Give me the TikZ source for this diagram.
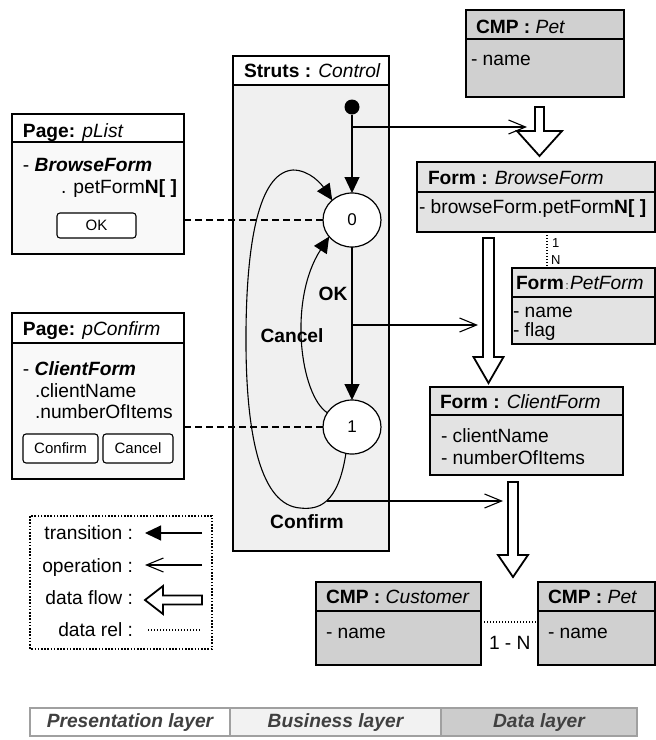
\documentclass[tikz,border=0pt]{standalone}
\usepackage{fontspec}
\setmainfont{Liberation Sans}
\usetikzlibrary{arrows.meta,shapes.geometric,calc}
\definecolor{formgray}{HTML}{E3E3E3}
\definecolor{cmpgray}{HTML}{D0D0D0}
\definecolor{strutsgray}{HTML}{F0F0F0}
\definecolor{pagegray}{HTML}{F9F9F9}
\definecolor{bizgray}{HTML}{F2F2F2}
\definecolor{datagray}{HTML}{CCCCCC}
\definecolor{layerline}{HTML}{A0A0A0}
\definecolor{layertext}{HTML}{404040}
\newcommand\boxpart[6]{\node[rbox, fill=#6, minimum width={(#4)-(#2)}, minimum height={(#5)-(#3)}] (#1) at (#2,#3) {};}
\newcommand\flowdown[6]{% cx, halfshaft, top, base, halfhead, tip
  \draw[dflow] ({#1-#2},#3) -- ({#1-#2},#4) -- ({#1-#5},#4) -- (#1,#6) -- ({#1+#5},#4) -- ({#1+#2},#4) -- ({#1+#2},#3) -- cycle;}
\begin{document}
\begin{tikzpicture}[x=1pt,y=-1pt,
  every node/.style={font=\fontsize{19.2}{22}\selectfont, inner sep=0pt, outer sep=0pt},
  txt/.style={anchor=base west},
  rbox/.style={draw, line width=1.2pt, rectangle, inner sep=0pt, anchor=north west},
  btn/.style={draw, line width=1.1pt, rounded corners=3pt, fill=white, anchor=north west, font=\fontsize{15}{18}\selectfont},
  state/.style={draw, ellipse, fill=white, line width=1.2pt, minimum width=58pt, minimum height=54pt, font=\fontsize{17}{20}\selectfont},
  trans/.style={-{Triangle[length=16pt,width=15pt]}, line width=1.1pt},
  oper/.style={-{Straight Barb[length=17pt,width=14pt,line width=1.1pt]}, line width=1.1pt},
  dflow/.style={draw, fill=white, line width=1.8pt, line join=miter},
  dashline/.style={line width=1.1pt, dash pattern=on 7pt off 4pt},
  rel/.style={line width=1.3pt, dash pattern=on 1.4pt off 1.6pt},
  lbl/.style={anchor=base, font=\fontsize{19.2}{22}\selectfont\bfseries},
  layer/.style={draw=layerline, line width=1.2pt, rectangle, inner sep=0pt, anchor=north west, minimum height=28pt},
  layertxt/.style={anchor=base, text=layertext, font=\fontsize{19.2}{22}\selectfont\bfseries\itshape}
]
\useasboundingbox (0,0) rectangle (656,740);

% ---------- Struts : Control ----------
\boxpart{strh}{233}{56}{389}{85}{white}
\boxpart{strb}{233}{85}{389}{551}{strutsgray}
\node[txt] (strt) at (244,77) {\textbf{Struts :} \textit{Control}};

% ---------- Page: pList ----------
\boxpart{plh}{12}{114}{184}{142}{white}
\boxpart{plb}{12}{142}{184}{254}{pagegray}
\node[txt] (plt) at (23,137) {\textbf{Page:} \textit{pList}};
\node[txt] (pl1) at (23,171) {- \textbf{\textit{BrowseForm}}};
\node[txt] (pl2) at (61,193) {. petForm\textbf{N[ ]}};
\node[btn, minimum width=79pt, minimum height=25pt] (okb) at (57,213) {};
\node[font=\fontsize{15}{18}\selectfont] (okt) at (okb.center) {OK};

% ---------- Page: pConfirm ----------
\boxpart{pch}{12}{313}{184}{343}{white}
\boxpart{pcb}{12}{343}{184}{479}{pagegray}
\node[txt] (pct) at (23,335) {\textbf{Page:} \textit{pConfirm}};
\node[txt] (pc1) at (23,375) {- \textbf{\textit{ClientForm}}};
\node[txt] (pc2) at (35,397) {.clientName};
\node[txt] (pc3) at (35,418) {.numberOfItems};
\node[btn, minimum width=75pt, minimum height=29pt] (cfb) at (23,434) {};
\node[font=\fontsize{15}{18}\selectfont] (cft) at (cfb.center) {Confirm};
\node[btn, minimum width=70pt, minimum height=29pt] (cnb) at (103,434) {};
\node[font=\fontsize{15}{18}\selectfont] (cnt) at (cnb.center) {Cancel};

% ---------- CMP : Pet (top) ----------
\boxpart{pet1h}{466}{10}{624}{39}{cmpgray}
\boxpart{pet1b}{466}{39}{624}{97}{cmpgray}
\node[txt] (pet1t) at (476,33) {\textbf{CMP :} \textit{Pet}};
\node[txt] (pet1a) at (471,65) {- name};

% ---------- Form : BrowseForm ----------
\boxpart{bfh}{417}{162}{655}{192}{formgray}
\boxpart{bfb}{417}{192}{655}{232}{formgray}
\node[txt] (bft) at (428,184) {\textbf{Form :} \textit{BrowseForm}};
\node[txt] (bfa) at (419,213) {- browseForm.petForm\textbf{N[ ]}};

% ---------- Form : PetForm ----------
\boxpart{pfh}{512}{268}{655}{297}{formgray}
\boxpart{pfb}{512}{297}{655}{344}{formgray}
\node[txt] (pft) at (516,289) {\textbf{Form}\hspace{1.5pt}{\fontsize{11}{12}\selectfont:}\hspace{1.5pt}\textit{PetForm}};
\node[txt] (pfa) at (513,317) {- name};
\node[txt] (pfc) at (513,336) {- flag};

% ---------- Form : ClientForm ----------
\boxpart{clh}{430}{387}{623}{415}{formgray}
\boxpart{clb}{430}{415}{623}{475}{formgray}
\node[txt] (clt) at (440,408) {\textbf{Form :} \textit{ClientForm}};
\node[txt] (cla) at (441,442) {- clientName};
\node[txt] (clc) at (441,464) {- numberOfItems};

% ---------- CMP : Customer ----------
\boxpart{cuh}{316}{582}{481}{611}{cmpgray}
\boxpart{cub}{316}{611}{481}{665}{cmpgray}
\node[txt] (cut) at (326,603) {\textbf{CMP :} \textit{Customer}};
\node[txt] (cua) at (326,638) {- name};

% ---------- CMP : Pet (bottom) ----------
\boxpart{pet2h}{538}{582}{655}{611}{cmpgray}
\boxpart{pet2b}{538}{611}{655}{665}{cmpgray}
\node[txt] (pet2t) at (548,603) {\textbf{CMP :} \textit{Pet}};
\node[txt] (pet2a) at (548,638) {- name};

% ---------- data relations ----------
\coordinate (r1a) at (547,232);
\coordinate (r1b) at (547,268);
\draw[rel] (r1a) -- (r1b);
\node[txt, font=\fontsize{13}{14}\selectfont] (r1one) at (552,247) {1};
\node[txt, font=\fontsize{13}{14}\selectfont] (r1n) at (551,264) {N};
\draw[rel] (cub.east |- 0,622) -- (pet2b.west |- 0,622);
\node[txt] (r2l) at (489,649) {1 - N};

% ---------- data flows ----------
\flowdown{539.5}{4.5}{107}{131}{22.5}{156}
\flowdown{488.5}{5.5}{238}{357}{15}{383}
\flowdown{513}{5}{482}{555}{15}{577}

% ---------- states ----------
\node[circle, fill=black, minimum size=15pt] (init) at (352,107) {};
\node[state] (s0) at (352,220) {0};
\node[state] (s1) at (352,427) {1};

\draw[trans] (init) -- (s0);
\draw[trans] (s0) -- (s1);
\draw[trans] (s1.150) .. controls (300,395) and (288,300) .. (s0.216);
\draw[trans] (s1.-103) .. controls (338,505) and (318,510) .. (300,508)
   .. controls (262,505) and (245,440) .. (246,330)
   .. controls (247,230) and (262,172) .. (293,170)
   .. controls (310,170) and (322,185) .. (s0.135);
\node[lbl] (okl) at (333,300) {OK};
\node[lbl] (cal) at (292,342) {Cancel};
\node[lbl] (col) at (307,528) {Confirm};

% ---------- operations ----------
\coordinate (op1s) at (352,127);
\coordinate (op1e) at (527,127);
\draw[oper] (op1s) -- (op1e);
\coordinate (op2s) at (352,325);
\coordinate (op2e) at (478,325);
\draw[oper] (op2s) -- (op2e);
\coordinate (op3s) at (327,501);
\coordinate (op3e) at (503,501);
\draw[oper] (op3s) -- (op3e);

% ---------- page links ----------
\draw[dashline] (s0.west -| plb.east) -- (s0.west);
\draw[dashline] (s1.west -| pcb.east) -- (s1.west);

% ---------- legend ----------
\draw[line width=1.8pt, dash pattern=on 1.6pt off 1.6pt] (30,516) rectangle (212,649);
\node[anchor=base east] (lg1) at (133,539) {transition :};
\node[anchor=base east] (lg2) at (133,572) {operation :};
\node[anchor=base east] (lg3) at (133,604) {data flow :};
\node[anchor=base east] (lg4) at (133,636) {data rel :};
\coordinate (lt1a) at (202,533); \coordinate (lt1b) at (145,533);
\draw[trans] (lt1a) -- (lt1b);
\coordinate (lt2a) at (202,565); \coordinate (lt2b) at (145,565);
\draw[oper] (lt2a) -- (lt2b);
\draw[dflow] (202,595.5) -- (163,595.5) -- (163,586) -- (145,600) -- (163,614) -- (163,604.5) -- (202,604.5) -- cycle;
\coordinate (lt4a) at (148,630); \coordinate (lt4b) at (201,630);
\draw[rel] (lt4a) -- (lt4b);

% ---------- layers ----------
\node[layer, fill=white, minimum width=200pt] (lyp) at (30,708) {};
\node[layer, fill=bizgray, minimum width=211pt] (lyb) at (230,708) {};
\node[layer, fill=datagray, minimum width=196pt] (lyd) at (441,708) {};
\node[layertxt] (lypt) at ($(lyp.center)+(0,5)$) {Presentation layer};
\node[layertxt] (lybt) at ($(lyb.center)+(0,5)$) {Business layer};
\node[layertxt] (lydt) at ($(lyd.center)+(0,5)$) {Data layer};
\end{tikzpicture}
\end{document}
